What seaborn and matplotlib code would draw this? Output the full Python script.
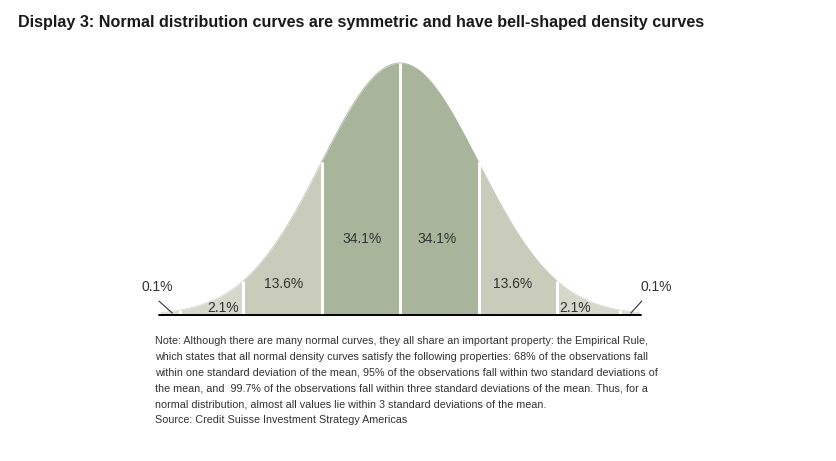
import numpy as np
import pandas as pd
import matplotlib
matplotlib.use("Agg")
import matplotlib.pyplot as plt
import seaborn as sns

# ---- data ----
bounds = [-3.05, -2.8, -2.0, -1.0, 0.0, 1.0, 2.0, 2.8, 3.05]
pct_labels = ["0.1%", "2.1%", "13.6%", "34.1%", "34.1%", "13.6%", "2.1%", "0.1%"]
seg_colors = ["#DADCD0", "#D6D8CB", "#C9CBBB", "#A9B59B", "#A9B59B", "#C9CBBB", "#D6D8CB", "#DADCD0"]
# label anchor positions (x in sigma units, y in density units)
label_x = [-3.09, -2.25, -1.48, -0.49, 0.47, 1.43, 2.23, 3.26]
label_y = [0.044, 0.011, 0.049, 0.12, 0.12, 0.049, 0.011, 0.044]

title = "Display 3: Normal distribution curves are symmetric and have bell-shaped density curves"
note_lines = [
    "Note: Although there are many normal curves, they all share an important property: the Empirical Rule,",
    "which states that all normal density curves satisfy the following properties: 68% of the observations fall",
    "within one standard deviation of the mean, 95% of the observations fall within two standard deviations of",
    "the mean, and  99.7% of the observations fall within three standard deviations of the mean. Thus, for a",
    "normal distribution, almost all values lie within 3 standard deviations of the mean.",
    "Source: Credit Suisse Investment Strategy Americas",
]

sns.set_theme(style="white")
plt.rcParams["font.family"] = ["Liberation Sans", "DejaVu Sans"]

W, H = 837, 461
fig = plt.figure(figsize=(W / 100, H / 100), dpi=100)

sigma_px = 78.5
center_px = 400
ax_left_px, ax_right_px = 150, 650
base_px, top_px = 315, 55
peak = 1 / np.sqrt(2 * np.pi)
ymax = peak * (base_px - top_px) / 252.0

ax = fig.add_axes([ax_left_px / W, 1 - base_px / H, (ax_right_px - ax_left_px) / W, (base_px - top_px) / H])
ax.axis("off")

def pdf(x):
    return np.exp(-0.5 * np.asarray(x) ** 2) / np.sqrt(2 * np.pi)

for i in range(len(bounds) - 1):
    xs = np.linspace(bounds[i], bounds[i + 1], 120)
    seg = pd.DataFrame({"x": xs, "y": pdf(xs)})
    ax.fill_between(seg["x"], 0, seg["y"], color=seg_colors[i], linewidth=0)
    sns.lineplot(data=seg, x="x", y="y", ax=ax, color=seg_colors[i], linewidth=0.6, legend=False)

# white dividers
for b in bounds[1:-1]:
    ax.plot([b, b], [0, pdf(b)], color="white", linewidth=2.2, solid_capstyle="butt")

ax.set_xlim((ax_left_px - center_px) / sigma_px, (ax_right_px - center_px) / sigma_px)
ax.set_ylim(0, ymax)
ax.set_xlabel("")
ax.set_ylabel("")

# baseline
ax.plot([bounds[0] - 0.02, bounds[-1] + 0.02], [0, 0], color="black", linewidth=1.4, clip_on=False)

# labels
for lx, ly, t in zip(label_x, label_y, pct_labels):
    ax.text(lx, ly, t, ha="center", va="center", fontsize=10, color="#333333")

# leader lines for 0.1%
ax.plot([-3.07, -2.9], [0.022, 0.003], color="#333333", linewidth=0.8, clip_on=False)
ax.plot([2.94, 3.08], [0.003, 0.022], color="#333333", linewidth=0.8, clip_on=False)

fig.text(18 / W, 1 - 22 / H, title, ha="left", va="center", fontsize=11.6, fontweight="bold", color="#1a1a1a")

for i, line in enumerate(note_lines):
    fig.text(155 / W, 1 - (341 + i * 15.8) / H, line, ha="left", va="center", fontsize=7.75, color="#333333")

fig.savefig("out.png", dpi=100, facecolor="white")
